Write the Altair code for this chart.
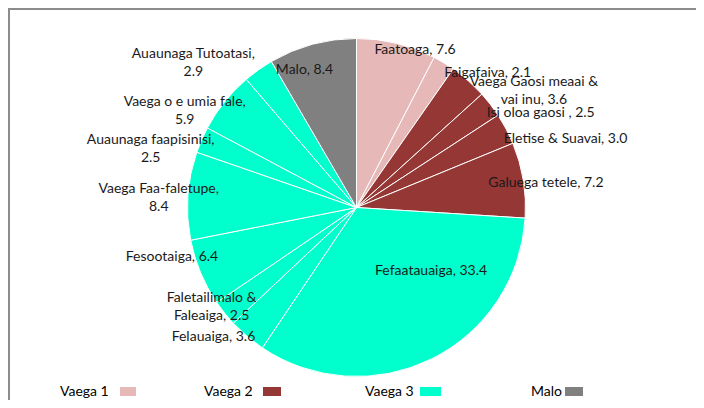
import altair as alt
import pandas as pd

# ---- data ----
categories = ["Faatoaga", "Faigafaiva", "Vaega Gaosi meaai & vai inu", "Isi oloa gaosi ",
              "Eletise & Suavai", "Galuega tetele", "Fefaatauaiga", "Felauaiga",
              "Faletailimalo & Faleaiga", "Fesootaiga", "Vaega Faa-faletupe",
              "Auaunaga faapisinisi", "Vaega o e umia fale", "Auaunaga Tutoatasi", "Malo"]
values = [7.6, 2.1, 3.6, 2.5, 3.0, 7.2, 33.4, 3.6, 2.5, 6.4, 8.4, 2.5, 5.9, 2.9, 8.4]
groups = ["Vaega 1", "Vaega 1",
          "Vaega 2", "Vaega 2", "Vaega 2", "Vaega 2",
          "Vaega 3", "Vaega 3", "Vaega 3", "Vaega 3", "Vaega 3", "Vaega 3", "Vaega 3", "Vaega 3",
          "Malo"]
label_text = ["Faatoaga, 7.6", "Faigafaiva, 2.1", "Vaega Gaosi meaai &\nvai inu, 3.6",
              "Isi oloa gaosi , 2.5", "Eletise & Suavai, 3.0", "Galuega tetele, 7.2",
              "Fefaatauaiga, 33.4", "Felauaiga, 3.6", "Faletailimalo &\nFaleaiga, 2.5",
              "Fesootaiga, 6.4", "Vaega Faa-faletupe,\n8.4", "Auaunaga faapisinisi,\n2.5",
              "Vaega o e umia fale,\n5.9", "Auaunaga Tutoatasi,\n2.9", "Malo, 8.4"]
legend_groups = ["Vaega 1", "Vaega 2", "Vaega 3", "Malo"]
group_colors = ["#e6b9b8", "#953735", "#00ffcc", "#808080"]

# ---- layout (label placement: angle nudge from slice middle, distance from centre) ----
label_nudge = [6.7, 13.1, 15.4, 10.5, 9.6, 2.0, -23.3, 7.5, 4.1, 7.7, -1.25, -7.7, -9.4, -13.0, -5.6]
label_radius = [168, 188, 212, 207, 220, 191, 98, 193, 176, 191, 198, 214, 197, 218, 147]

W, H = 688, 392
CX, CY = 348.5, 199.5
R = 169
FONT = "Lato"
LH = 18

df = pd.DataFrame({
    "category": categories,
    "value": values,
    "group": groups,
    "label": label_text,
    "order": list(range(len(values))),
    "nudge": label_nudge,
    "lr": label_radius,
})

color_scale = alt.Scale(domain=legend_groups, range=group_colors)
base = alt.Chart(df)

pie = base.mark_arc(radius=R, stroke="white", strokeWidth=1).encode(
    theta=alt.Theta("value:Q", stack=True),
    color=alt.Color("group:N", scale=color_scale, legend=None),
    order=alt.Order("order:Q", sort="ascending"),
    x=alt.value(CX),
    y=alt.value(CY),
)

labels = (
    base.transform_window(cum="sum(value)", sort=[alt.SortField("order")], frame=[None, 0])
    .transform_joinaggregate(total="sum(value)")
    .transform_calculate(ang="2*PI*(datum.cum - datum.value/2)/datum.total + datum.nudge*PI/180")
    .transform_calculate(
        lx=f"{CX} + datum.lr*sin(datum.ang)",
        ly=f"{CY} - datum.lr*cos(datum.ang) - (indexof(datum.label, '\\n') >= 0 ? {LH / 2} : 0)",
    )
    .mark_text(font=FONT, fontSize=14, color="#1a1a1a", align="center", baseline="middle",
               lineBreak="\n", lineHeight=LH)
    .encode(
        x=alt.X("lx:Q", scale=None, axis=None),
        y=alt.Y("ly:Q", scale=None, axis=None),
        text="label:N",
    )
)

frame_top = alt.Chart(df).mark_rule(stroke="#8c8c8c", strokeWidth=2).encode(
    x=alt.value(0), x2=alt.value(W), y=alt.value(1)
)
frame_left = alt.Chart(df).mark_rule(stroke="#8c8c8c", strokeWidth=2).encode(
    x=alt.value(1), y=alt.value(0), y2=alt.value(H)
)

# legend (custom: label followed by swatch)
leg_text_x = [52, 196, 357, 523]
leg_sw_x = [112, 255, 412, 557]
leg_sw_w = [16, 18, 21, 18]
leg_y = 384
legend_layers = []
for g, c, tx, sx, sw in zip(legend_groups, group_colors, leg_text_x, leg_sw_x, leg_sw_w):
    ldf = pd.DataFrame({"group": [g]})
    legend_layers.append(
        alt.Chart(ldf).mark_text(font=FONT, fontSize=14, color="black", align="left", baseline="middle")
        .encode(x=alt.value(tx), y=alt.value(leg_y), text="group:N")
    )
    legend_layers.append(
        alt.Chart(ldf).mark_rect(color=c)
        .encode(x=alt.value(sx), x2=alt.value(sx + sw), y=alt.value(leg_y - 5), y2=alt.value(leg_y + 4))
    )

chart = alt.layer(frame_top, frame_left, pie, labels, *legend_layers).properties(
    width=W, height=H, autosize=alt.AutoSizeParams(type="none"), padding=0
).configure_view(stroke=None)

chart.save("out.html", embed_options={"renderer": "svg", "actions": False})
